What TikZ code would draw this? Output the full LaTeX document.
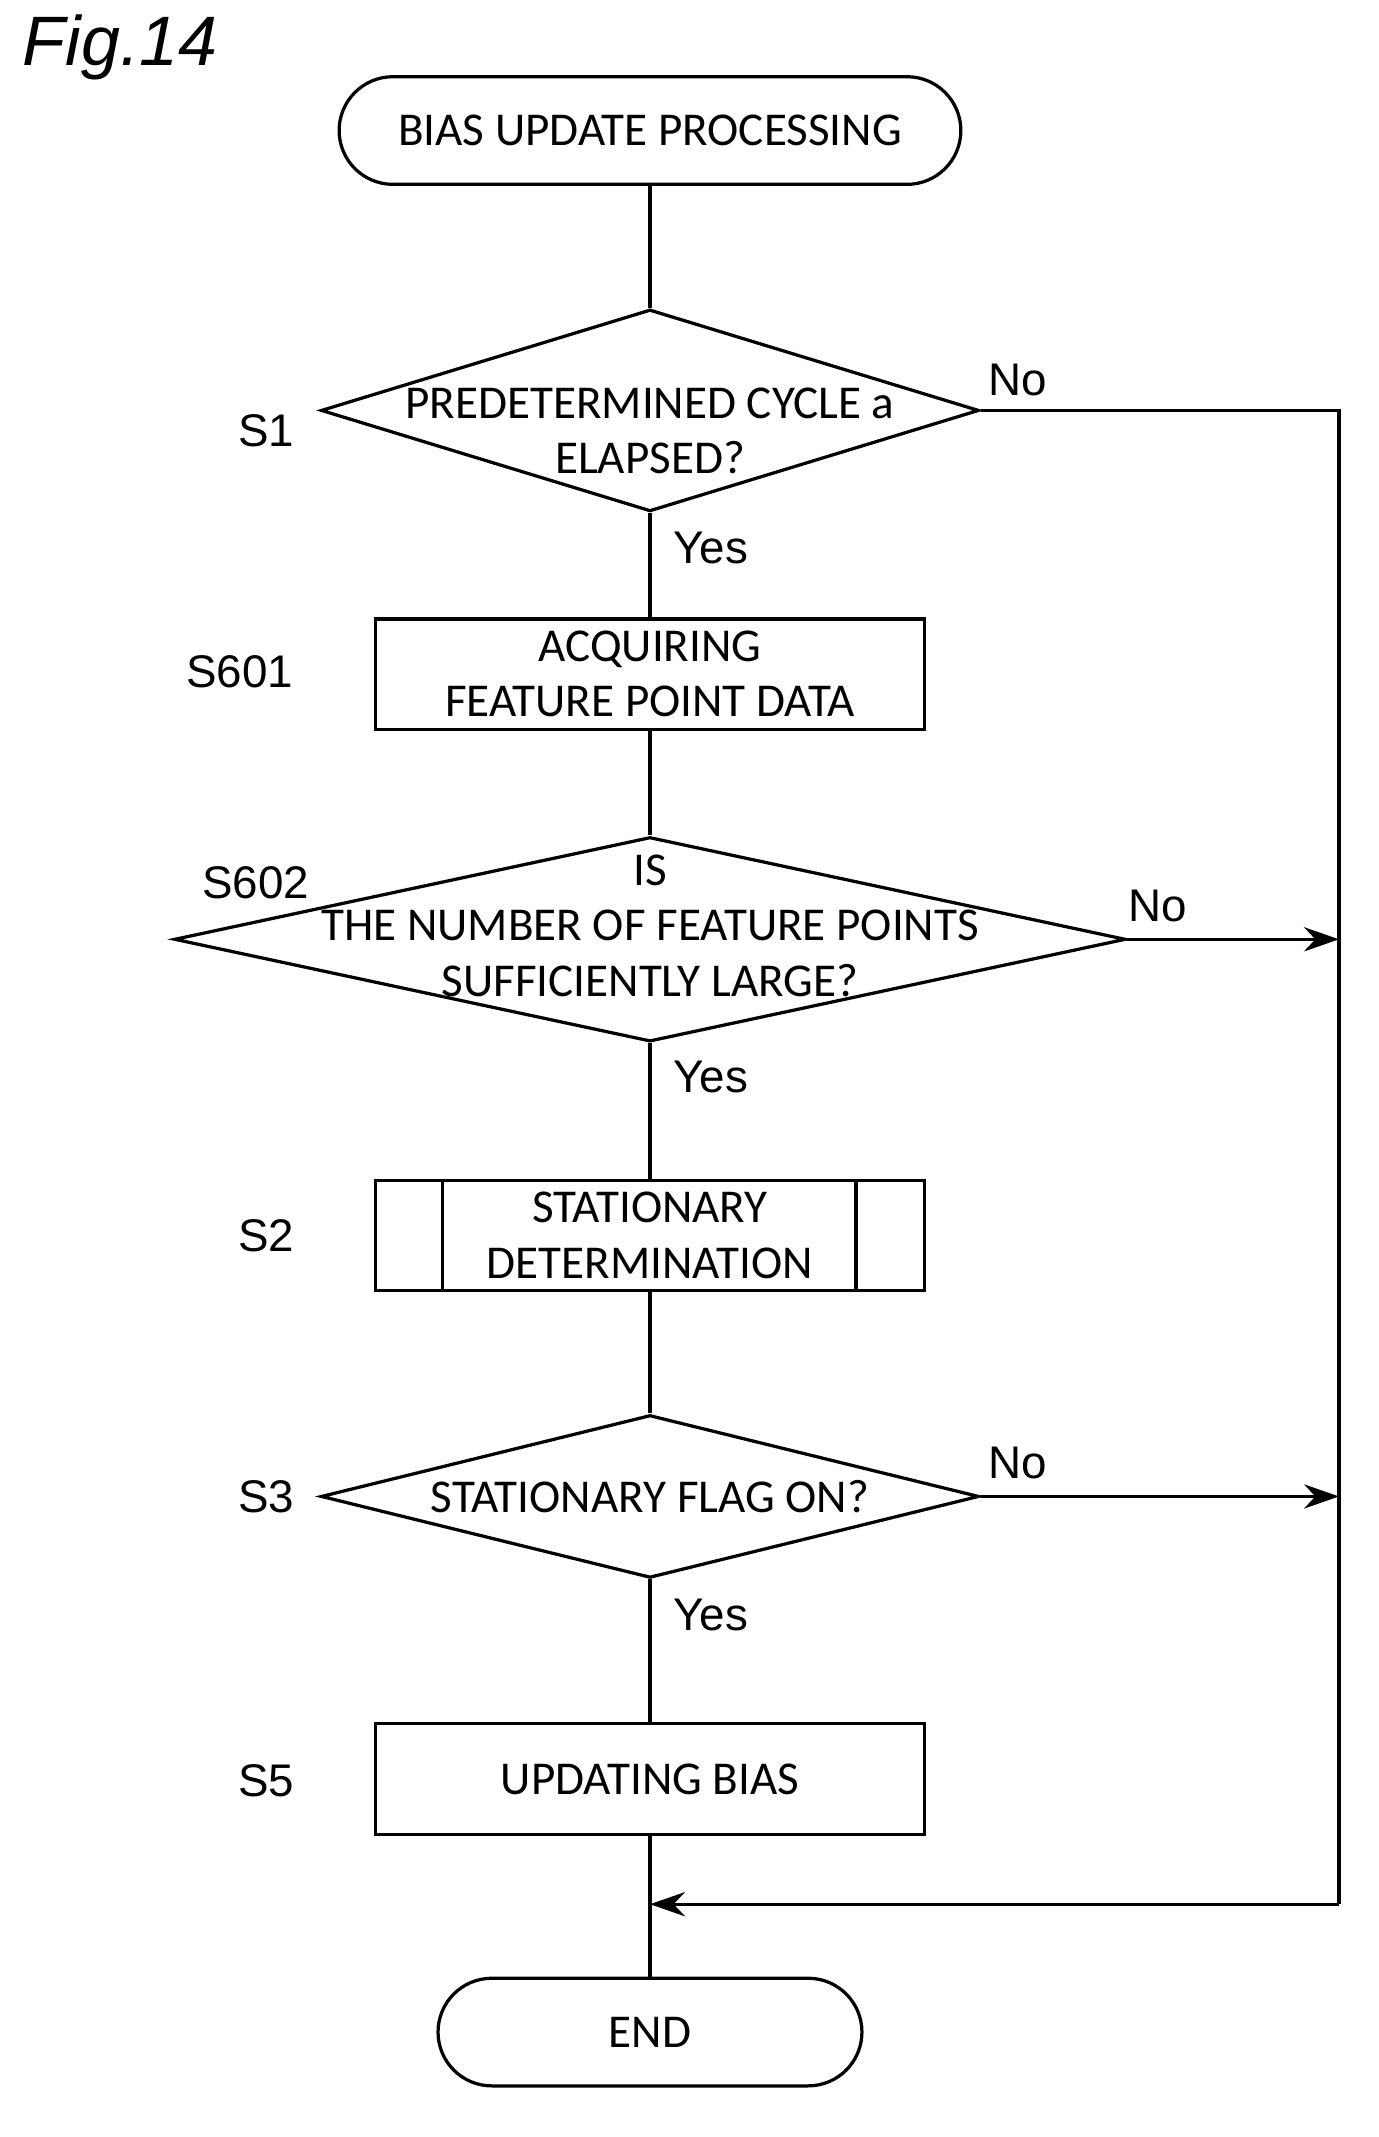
\documentclass[tikz,border=0pt]{standalone}
\usepackage{fontspec}
\setmainfont{Carlito}
\newfontfamily\arialf{Liberation Sans}
\usetikzlibrary{shapes.geometric,arrows.meta}
\begin{document}
\begin{tikzpicture}[x=0.5pt,y=-0.5pt,
  box/.style={draw,line width=1.2pt,rectangle,inner sep=0,font=\fontsize{17.5}{20.5}\selectfont,align=center},
  term/.style={box,rounded corners=20pt},
  dia/.style={draw,line width=1.2pt,diamond,inner sep=0},
  txt/.style={font=\fontsize{17.5}{20.5}\selectfont,align=center},
  lab/.style={font=\arialf\fontsize{17}{19}\selectfont},
  ln/.style={line width=1.2pt},
  arr/.style={ln,-{Stealth[length=13pt,width=9pt]}}]
\useasboundingbox (0,0) rectangle (1024,1588);
\node[font=\arialf\itshape\fontsize{26}{28}\selectfont,anchor=west] (fig) at (10,35) {Fig.14};
\node[term,minimum width=231pt,minimum height=40pt] (start) at (483,97) {BIAS UPDATE PROCESSING};
\node[dia,minimum width=244.5pt,minimum height=75pt] (s1) at (483,305) {};
\node[txt] (s1t) at (483,320) {PREDETERMINED CYCLE a\\ELAPSED?};
\node[box,minimum width=204pt,minimum height=41pt] (s601) at (483,501) {ACQUIRING\\FEATURE POINT DATA};
\node[dia,minimum width=353.5pt,minimum height=76pt] (s602) at (483,698) {};
\node[txt] (s602t) at (483,688) {IS\\THE NUMBER OF FEATURE POINTS\\SUFFICIENTLY LARGE?};
\node[box,minimum width=204pt,minimum height=41pt] (s2) at (483,918) {STATIONARY\\DETERMINATION};
\draw[ln] (329,877) -- (329,959) (636,877) -- (636,959);
\node[dia,minimum width=244.5pt,minimum height=60.5pt] (s3) at (483,1112) {};
\node[txt] (s3t) at (483,1112) {STATIONARY FLAG ON?};
\node[box,minimum width=204pt,minimum height=41pt] (s5) at (483,1322) {UPDATING BIAS};
\node[term,minimum width=157.5pt,minimum height=40pt] (end) at (483,1510) {END};
\node[lab] at (198,320) {S1};
\node[lab] at (178,499) {S601};
\node[lab] at (190,656) {S602};
\node[lab] at (198,918) {S2};
\node[lab] at (198,1112) {S3};
\node[lab] at (198,1323) {S5};
\node[lab] at (756,282) {No};
\node[lab] at (860,673) {No};
\node[lab] at (756,1087) {No};
\node[lab] at (528,407) {Yes};
\node[lab] at (528,800) {Yes};
\node[lab] at (528,1200) {Yes};
\coordinate (r1) at (995,305);
\coordinate (r2) at (995,698);
\coordinate (r3) at (995,1112);
\coordinate (r4) at (995,1415);
\coordinate (m) at (483,1415);
\draw[ln] (start) -- (s1.north);
\draw[ln] (s1.south) -- (s601);
\draw[ln] (s601) -- (s602.north);
\draw[ln] (s602.south) -- (s2);
\draw[ln] (s2) -- (s3.north);
\draw[ln] (s3.south) -- (s5);
\draw[ln] (s5) -- (end);
\draw[ln] (s1.east) -- (r1) -- (r4);
\draw[arr] (s602.east) -- (r2);
\draw[arr] (s3.east) -- (r3);
\draw[arr] (r4) -- (m);
\end{tikzpicture}
\end{document}
